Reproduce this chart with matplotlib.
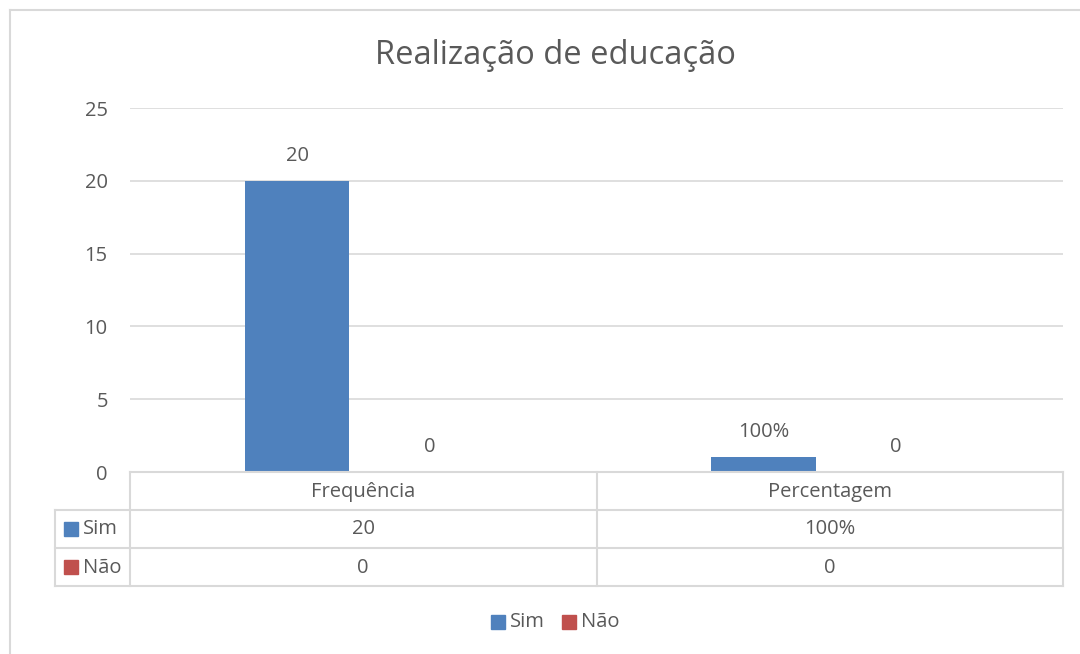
import matplotlib
matplotlib.use("Agg")
import matplotlib.pyplot as plt
from matplotlib.lines import Line2D
from matplotlib.patches import Rectangle

# ---- data ----
categories = ["Frequência", "Percentagem"]
series_names = ["Sim", "Não"]
sim_values = [20, 1.0]
nao_values = [0, 0]
sim_labels = ["20", "100%"]
nao_labels = ["0", "0"]
yticks = [0, 5, 10, 15, 20, 25]
title = "Realização de educação"

# ---- style ----
W, H = 1080, 654
DPI = 100
BLUE = "#4F81BD"
RED = "#C0504D"
TXT = "#595959"
GRID = "#D9D9D9"
FONT = "Open Sans"
FS = 14.5
plt.rcParams["font.family"] = [FONT, "DejaVu Sans"]

fig = plt.figure(figsize=(W / DPI, H / DPI), dpi=DPI)
fig.patch.set_facecolor("white")

def fx(px):
    return px / W

def fy(py):
    return 1 - py / H

# plot area
L, R, T, B = 130, 1063, 108, 472
ax = fig.add_axes([fx(L), fy(B), fx(R) - fx(L), fy(T) - fy(B)])
ax.set_xlim(-0.5, len(categories) - 0.5)
ax.set_ylim(0, 25)
ax.set_yticks(yticks)
ax.set_xticks([])
for s in ax.spines.values():
    s.set_visible(False)
ax.yaxis.grid(True, color=GRID, linewidth=1.2)
ax.set_axisbelow(True)
ax.tick_params(axis="y", length=0, pad=16, labelsize=FS, labelcolor=TXT)

x = list(range(len(categories)))
bw = 0.223
off = 0.142
b1 = ax.bar([i - off for i in x], sim_values, width=bw, color=BLUE, zorder=3)
b2 = ax.bar([i + off for i in x], nao_values, width=bw, color=RED, zorder=3)
for bars, labs in ((b1, sim_labels), (b2, nao_labels)):
    for bar, lab in zip(bars, labs):
        ax.annotate(lab, (bar.get_x() + bar.get_width() / 2, bar.get_height()),
                    xytext=(0, 18), textcoords="offset points",
                    ha="center", va="center", fontsize=FS, color=TXT)

# title
fig.text(fx(555), fy(55), title, ha="center", va="center", fontsize=23.5, color=TXT)

# ---- data table ----
lw = 1.5
def hline(y, x0, x1):
    fig.add_artist(Line2D([fx(x0), fx(x1)], [fy(y), fy(y)], color=GRID, lw=lw))

def vline(x0, y0, y1):
    fig.add_artist(Line2D([fx(x0), fx(x0)], [fy(y0), fy(y1)], color=GRID, lw=lw))

rows = [472, 509.5, 547.5, 586]
colx = [L, (L + R) / 2, R]
left_x = 55
hline(rows[0], L, R)
for y in rows[1:]:
    hline(y, left_x, R)
for cx in colx:
    vline(cx, rows[0], rows[-1])
vline(left_x, rows[1], rows[-1])

# header
for i, c in enumerate(categories):
    xc = (colx[i] + colx[i + 1]) / 2
    fig.text(fx(xc), fy((rows[0] + rows[1]) / 2 + 1), c, ha="center", va="center",
             fontsize=FS, color=TXT)

row_vals = [sim_labels, nao_labels]
colors = [BLUE, RED]
for r, (name, vals, col) in enumerate(zip(series_names, row_vals, colors)):
    yc = (rows[r + 1] + rows[r + 2]) / 2
    fig.add_artist(Rectangle((fx(64), fy(yc + 7)), fx(14), fy(0) - fy(14),
                             transform=fig.transFigure, color=col))
    fig.text(fx(83), fy(yc + 1), name, ha="left", va="center", fontsize=FS, color=TXT)
    for i, v in enumerate(vals):
        xc = (colx[i] + colx[i + 1]) / 2
        fig.text(fx(xc), fy(yc + 1), v, ha="center", va="center", fontsize=FS, color=TXT)

# bottom legend
ly = 622
for x0, name, col in ((491, series_names[0], BLUE), (562, series_names[1], RED)):
    fig.add_artist(Rectangle((fx(x0), fy(ly + 7)), fx(14), fy(0) - fy(14),
                             transform=fig.transFigure, color=col))
    fig.text(fx(x0 + 19), fy(ly), name, ha="left", va="center", fontsize=FS, color=TXT)

# outer chart frame
hline(10, 10, W)
vline(10, 10, H)

fig.savefig("out.png", dpi=DPI, facecolor="white")
